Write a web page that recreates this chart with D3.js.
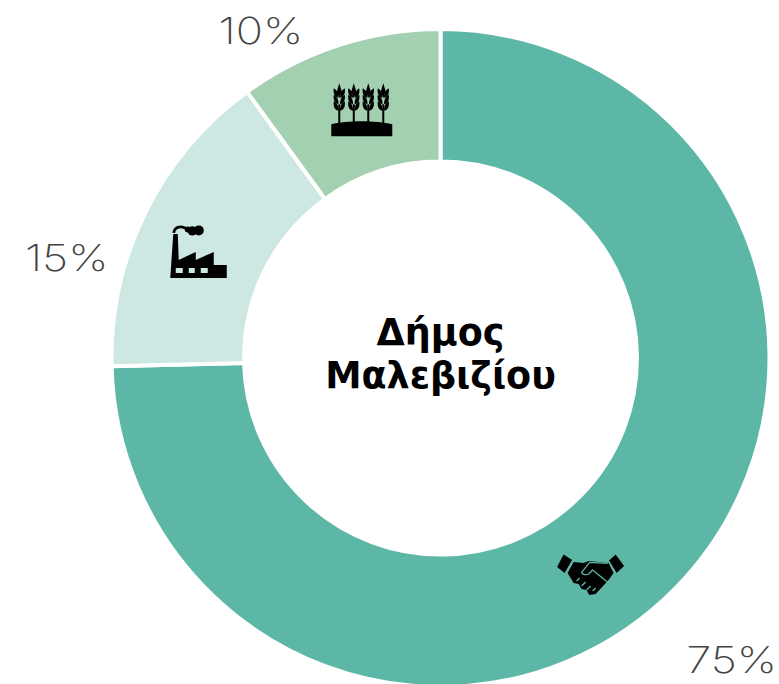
<!DOCTYPE html>
<html><head><meta charset="utf-8">
<script src="https://cdnjs.cloudflare.com/ajax/libs/d3/7.8.5/d3.min.js"></script>
<style>html,body{margin:0;background:#fff;overflow:hidden}svg{display:block}</style>
</head><body><svg id="c" width="779" height="684"></svg>
<script>
// Data
const categories = ["Τριτογενής", "Δευτερογενής", "Πρωτογενής"];
const shares = [74.6, 15.4, 10.0];
const shareLabels = ["75%", "15%", "10%"];
const titleLines = ["Δήμος", "Μαλεβιζίου"];
const sliceColors = ["#5db7a6", "#cde8e2", "#a2d0b0"];
const icons = ["handshake", "factory", "wheat"];

// Layout
const cx = 440.5, cy = 358, outerR = 329, innerR = 196.5;
const labelPolar = [[136, 419], [-75, 387], [-28.8, 373]];
const iconPolar = [[145.2, 263], [-66.3, 264], [-17.6, 262]];
const polar = ([deg, r]) => [r * Math.sin(deg * Math.PI / 180), -r * Math.cos(deg * Math.PI / 180)];

const svg = d3.select("#c");
const g = svg.append("g").attr("transform", `translate(${cx},${cy})`);
const pie = d3.pie().sort(null).value(d => d)(shares);
const arc = d3.arc().innerRadius(innerR).outerRadius(outerR);
g.selectAll("path.slice").data(pie).join("path").attr("class", "slice")
  .attr("d", arc).attr("fill", (d, i) => sliceColors[i])
  .attr("stroke", "#fff").attr("stroke-width", 4).attr("stroke-linejoin", "miter");
g.selectAll("text.pct").data(shareLabels).join("text").attr("class", "pct")
  .attr("transform", (d, i) => `translate(${polar(labelPolar[i])}) scale(1.22,1)`)
  .attr("text-anchor", "middle").attr("dy", "0.36em")
  .style("font", "200 37px Inter").attr("fill", "#444").text(d => d);

const t = g.append("text").attr("text-anchor", "middle")
  .style("font", "bold 36.5px 'DejaVu Sans'").attr("fill", "#000");
t.selectAll("tspan").data(titleLines).join("tspan").attr("x", 0)
  .attr("y", (d, i) => i ? 30 : -13).text(d => d);

const drawIcon = {
  wheat(s) {
    s.append("path").attr("fill", "#000").attr("d", "M-30 16C-15 12 15 12 31 16V28H-30Z");
    [-22, -7.5, 7, 22].forEach(x => {
      const w = s.append("g").attr("transform", `translate(${x},0)`);
      w.append("rect").attr("x", -1).attr("y", -4).attr("width", 2).attr("height", 19);
      w.append("path").attr("d", "M0 -25L2.4 -17L0 -10L-2.4 -17Z");
      [-16, -9.5, -3].forEach(y => {
        w.append("path").attr("d", `M-0.8 ${y+5.5}C-5.5 ${y+4.5} -6 ${y} -5.5 ${y-4}C-2 ${y-2} -0.6 ${y+1} -0.8 ${y+5.5}Z`);
        w.append("path").attr("d", `M0.8 ${y+5.5}C5.5 ${y+4.5} 6 ${y} 5.5 ${y-4}C2 ${y-2} 0.6 ${y+1} 0.8 ${y+5.5}Z`);
      });
    });
  },
  factory(s) {
    s.append("path").attr("fill-rule", "evenodd").attr("d",
      "M-28.5 26L-25.5 -18H-21L-20 8L-3 0V8L15 0V13H28V26Z" +
      "M-23 16V21H-16V16ZM-10 16V21H-4V16ZM2 16V21H9V16Z");
    s.append("path").attr("fill", "none").attr("stroke", "#000").attr("stroke-width", 2.8)
      .attr("d", "M-25 -19C-24 -26 -17 -26 -12 -23");
    s.append("circle").attr("cx", -11).attr("cy", -22.5).attr("r", 3);
    s.append("circle").attr("cx", -6.5).attr("cy", -21).attr("r", 4.6);
    s.append("circle").attr("cx", 0).attr("cy", -21.5).attr("r", 5);
  },
  handshake(s) {
    s.attr("fill", "#000");
    s.append("path").attr("d", "M-27 -19.5L-18.5 -14L-26 -1L-33.5 -7Z");
    s.append("path").attr("d", "M25 -19.5L33.5 -8L26 -1L18.5 -13.5Z");
    s.append("path").attr("d", "M-17 -12L-7 -11L-2 -13L18 -11L23 -1L18 6L5 20L-1.5 21L-4 16L-9 15L-12 10L-17 9L-20 4L-23 -1Z");
    s.append("path").attr("fill", "none").attr("stroke", "#5db7a6").attr("stroke-width", 1.3).attr("stroke-linejoin", "round")
      .attr("d", "M17 -10.5L-1 -11.5L-9 -1.5C-8 1 -4 1 -2 0L2 -4L18 9");
    s.append("path").attr("fill", "none").attr("stroke", "#5db7a6").attr("stroke-width", 1.3)
      .attr("d", "M-14 7L-11 4M-9 12L-5 8M-4 16L0 12M2 17L5 14");
  }
};
const iconGroups = g.selectAll("g.icon").data(icons).join("g").attr("class", "icon")
  .attr("transform", (d, i) => `translate(${polar(iconPolar[i])})`);
iconGroups.each(function (d) { drawIcon[d](d3.select(this)); });
</script></body></html>
